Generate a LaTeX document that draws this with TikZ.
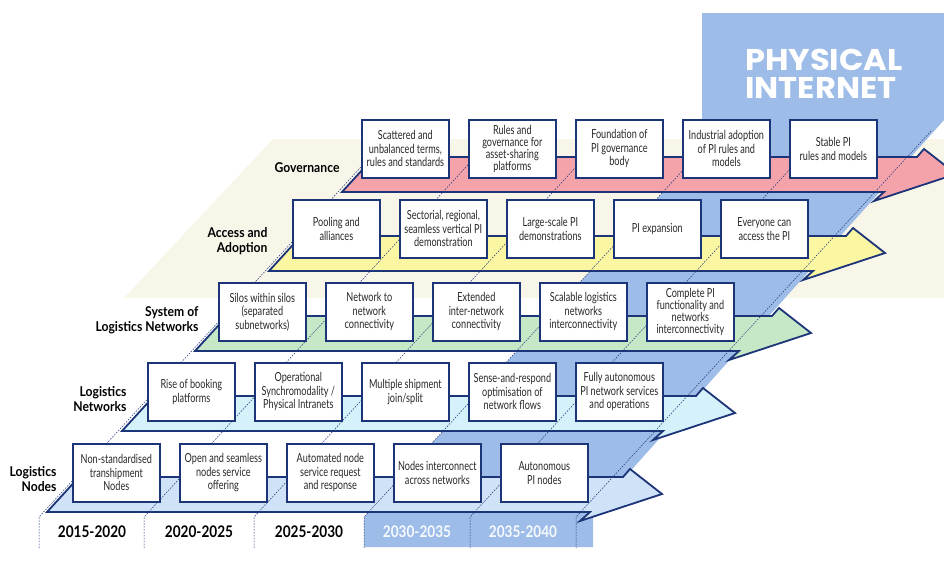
\documentclass[tikz,border=0pt]{standalone}
\usepackage{fontspec}
\setmainfont{Lato}
\newfontfamily\bxfont{Lato}[FakeStretch=0.73]
\newfontfamily\lbfont{Lato}[FakeStretch=0.9]
\newfontfamily\yrfont{Lato}[FakeStretch=0.85]
\newfontfamily\phfont{Poppins}[FakeStretch=1.07]
\definecolor{navy}{RGB}{28,52,120}
\definecolor{piblue}{RGB}{158,188,232}
\definecolor{beige}{RGB}{248,245,233}
\definecolor{cpink}{RGB}{244,163,170}
\definecolor{cyellow}{RGB}{250,246,162}
\definecolor{cgreen}{RGB}{198,232,199}
\definecolor{ccyan}{RGB}{213,242,251}
\definecolor{clblue}{RGB}{207,226,247}
\definecolor{txt}{RGB}{40,40,40}
\tikzset{
  pibox/.style={draw=navy, line width=1.7pt, fill=white, minimum width=87pt, minimum height=58pt,
    inner sep=1pt, align=center, anchor=north west, text=txt, font=\bxfont\fontsize{12.5}{13.5}\selectfont},
  tightbox/.style={pibox, font=\bxfont\fontsize{12.5}{11.8}\selectfont},
  bandline/.style={draw=navy, line width=1.8pt, line join=miter},
  gridline/.style={navy, line width=0.5pt, dash pattern=on 1.6pt off 1.3pt},
  rowlab/.style={anchor=east, align=right, text=black, font=\lbfont\bfseries\fontsize{13.5}{15}\selectfont},
  yearlab/.style={font=\yrfont\bfseries\fontsize{16}{16}\selectfont},
  philab/.style={anchor=base west, inner sep=0pt, text=white, font=\phfont\bfseries\fontsize{30}{30}\selectfont}
}
\newcommand{\pband}[4]{\draw[bandline, fill=#1] (#2,#4) -- ({#2+32},{#4-35}) -- ({#3+33},{#4-35})
  -- ({#3+40},{#4-43}) -- ({#3+72},{#4-18}) -- ({#3-10},{#4+9}) -- (#3,#4) -- cycle;}
\begin{document}
\begin{tikzpicture}[x=1pt,y=-1pt]
\useasboundingbox (0,0) rectangle (944,562);
% background areas
\fill[beige] (273,139) -- (944,139) -- (944,298) -- (124,298) -- cycle;
\fill[piblue] (364,547) -- (364,517) -- (702,150) -- (702,13) -- (944,13) -- (944,120) -- (593,513) -- (593,547) -- cycle;
% bands
\pband{clblue}{47}{590}{512}
\pband{ccyan}{122}{663}{431}
\pband{cgreen}{195}{739}{351}
\pband{cyellow}{269}{813}{271}
\pband{cpink}{342}{884}{192}
% time grid
\foreach \gx in {39,144,254,364,470,576}{
  \draw[gridline] (\gx,548) -- (\gx,517) -- ({\gx+356},130);
}
% Governance
\node[pibox] (g1) at (361,119) {Scattered and\\unbalanced terms,\\rules and standards};
\node[tightbox] (g2) at (468,119) {Rules and\\governance for\\asset-sharing\\platforms};
\node[pibox] (g3) at (575,119) {Foundation of\\PI governance\\body};
\node[pibox] (g4) at (682,119) {Industrial adoption\\of PI rules and\\models};
\node[pibox] (g5) at (789,119) {Stable PI\\rules and models};
% Access and Adoption
\node[pibox] (a1) at (292,199) {Pooling and\\alliances};
\node[pibox] (a2) at (399,199) {Sectorial, regional,\\seamless vertical PI\\demonstration};
\node[pibox] (a3) at (506,199) {Large-scale PI\\demonstrations};
\node[pibox] (a4) at (613,199) {PI expansion};
\node[pibox] (a5) at (720,199) {Everyone can\\access the PI};
% System of Logistics Networks
\node[pibox] (s1) at (218,282) {Silos within silos\\(separated\\subnetworks)};
\node[pibox] (s2) at (325,282) {Network to\\network\\connectivity};
\node[pibox] (s3) at (432,282) {Extended\\inter-network\\connectivity};
\node[pibox] (s4) at (539,282) {Scalable logistics\\networks\\interconnectivity};
\node[tightbox] (s5) at (646,282) {Complete PI\\functionality and\\networks\\interconnectivity};
% Logistics Networks
\node[pibox] (n1) at (147,362) {Rise of booking\\platforms};
\node[pibox] (n2) at (254,362) {Operational\\Synchromodality /\\Physical Intranets};
\node[pibox] (n3) at (361,362) {Multiple shipment\\join/split};
\node[pibox] (n4) at (468,362) {Sense-and-respond\\optimisation of\\network flows};
\node[pibox] (n5) at (575,362) {Fully autonomous\\PI network services\\and operations};
% Logistics Nodes
\node[pibox] (d1) at (72,443) {Non-standardised\\transhipment\\Nodes};
\node[pibox] (d2) at (179,443) {Open and seamless\\nodes service\\offering};
\node[pibox] (d3) at (286,443) {Automated node\\service request\\and response};
\node[pibox] (d4) at (393,443) {Nodes interconnect\\across networks};
\node[pibox] (d5) at (500,443) {Autonomous\\PI nodes};
% row labels
\node[rowlab] (lg) at (343,168) {Governance};
\node[rowlab] (la) at (271,241) {Access and\\Adoption};
\node[rowlab] (ls) at (202,320) {System of\\Logistics Networks};
\node[rowlab] (ln) at (130,399) {Logistics\\Networks};
\node[rowlab] (ld) at (60,479) {Logistics\\Nodes};
% years
\node[yearlab, text=black] (y1) at (92,532) {2015-2020};
\node[yearlab, text=black] (y2) at (199,532) {2020-2025};
\node[yearlab, text=black] (y3) at (309,532) {2025-2030};
\node[yearlab, text=white!92!piblue] (y4) at (417,532) {2030-2035};
\node[yearlab, text=white!92!piblue] (y5) at (523,532) {2035-2040};
% title
\node[philab] (pi1) at (745,70) {PHYSICAL};
\node[philab] (pi2) at (745,98) {INTERNET};
\end{tikzpicture}
\end{document}
